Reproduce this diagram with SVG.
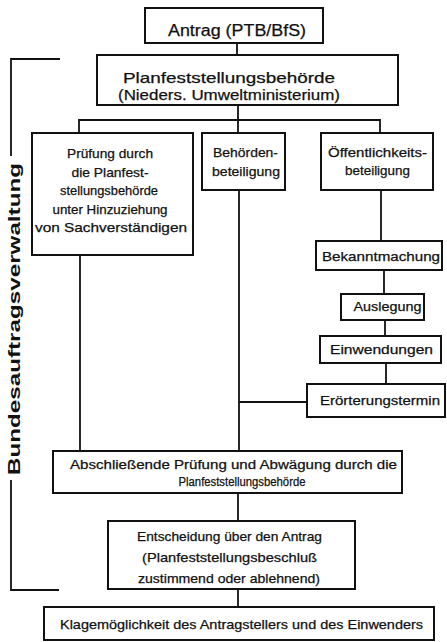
<svg xmlns="http://www.w3.org/2000/svg" width="447" height="642" viewBox="0 0 447 642">
<style>
.bg{fill:#fff}
.box{fill:#fff;stroke:#111;stroke-width:2}
.ln{fill:none;stroke:#111;stroke-width:1.8}
.t{font-family:"Liberation Sans",Arial,sans-serif;font-size:13px;fill:#111;stroke:#111;stroke-width:0.25;text-anchor:middle}
.big{font-size:15px}
.sm{font-size:12px}
.lab{font-family:"Liberation Sans",Arial,sans-serif;font-size:17px;font-weight:bold;fill:#111;text-anchor:middle}
</style>
<rect class="bg" x="0" y="0" width="447" height="642"/>
<g id="connectors">
<line class="ln" x1="237" y1="43" x2="237" y2="55"/>
<line class="ln" x1="238" y1="105" x2="238" y2="133"/>
<polyline class="ln" points="79,133 79,120 380,120 380,133"/>
<line class="ln" x1="80" y1="255" x2="80" y2="451"/>
<line class="ln" x1="239" y1="190" x2="239" y2="451"/>
<line class="ln" x1="381" y1="190" x2="381" y2="241"/>
<line class="ln" x1="384" y1="270" x2="384" y2="294"/>
<line class="ln" x1="385" y1="320" x2="385" y2="336"/>
<line class="ln" x1="386" y1="363" x2="386" y2="384"/>
<line class="ln" x1="239" y1="402" x2="307" y2="402"/>
<line class="ln" x1="238" y1="493" x2="238" y2="521"/>
<line class="ln" x1="238" y1="589" x2="238" y2="607"/>
</g>
<g id="bracket">
<polyline class="ln" points="60,59 11,59 11,156"/>
<polyline class="ln" points="11,480 11,590 59,590"/>
<text class="lab" transform="translate(20,319) rotate(-90)" x="0" y="0" textLength="312" lengthAdjust="spacingAndGlyphs">Bundesauftragsverwaltung</text>
</g>
<g id="antrag">
<rect class="box" x="145" y="8" width="178" height="35"/>
<text class="t" x="237" y="36" style="font-size:16px" textLength="138" lengthAdjust="spacingAndGlyphs">Antrag (PTB/BfS)</text>
</g>
<g id="planfeststellungsbehoerde">
<rect class="box" x="97" y="55" width="301" height="50"/>
<text class="t big" x="229" y="83" textLength="212" lengthAdjust="spacingAndGlyphs">Planfeststellungsbehörde</text>
<text class="t big" x="229" y="100" textLength="222" lengthAdjust="spacingAndGlyphs">(Nieders. Umweltministerium)</text>
</g>
<g id="pruefung">
<rect class="box" x="32" y="133" width="161" height="122"/>
<text class="t" x="110" y="158" textLength="86" lengthAdjust="spacingAndGlyphs">Prüfung durch</text>
<text class="t" x="110" y="177" textLength="77" lengthAdjust="spacingAndGlyphs">die Planfest-</text>
<text class="t" x="109" y="195" textLength="98" lengthAdjust="spacingAndGlyphs">stellungsbehörde</text>
<text class="t" x="110" y="214" textLength="115" lengthAdjust="spacingAndGlyphs">unter Hinzuziehung</text>
<text class="t" x="111" y="232" textLength="152" lengthAdjust="spacingAndGlyphs">von Sachverständigen</text>
</g>
<g id="behoerdenbeteiligung">
<rect class="box" x="202" y="133" width="83" height="57"/>
<text class="t" x="245.5" y="157" textLength="65" lengthAdjust="spacingAndGlyphs">Behörden-</text>
<text class="t" x="246" y="176" textLength="68" lengthAdjust="spacingAndGlyphs">beteiligung</text>
</g>
<g id="oeffentlichkeitsbeteiligung">
<rect class="box" x="321" y="133" width="112" height="57"/>
<text class="t" x="377.5" y="157" textLength="99" lengthAdjust="spacingAndGlyphs">Öffentlichkeits-</text>
<text class="t" x="377.5" y="175" textLength="65" lengthAdjust="spacingAndGlyphs">beteiligung</text>
</g>
<g id="bekanntmachung">
<rect class="box" x="316" y="241" width="126" height="29"/>
<text class="t" x="381" y="261" textLength="118" lengthAdjust="spacingAndGlyphs">Bekanntmachung</text>
</g>
<g id="auslegung">
<rect class="box" x="341" y="294" width="83" height="26"/>
<text class="t" x="387.5" y="311" textLength="68" lengthAdjust="spacingAndGlyphs">Auslegung</text>
</g>
<g id="einwendungen">
<rect class="box" x="320" y="336" width="121" height="27"/>
<text class="t" x="381.5" y="354" textLength="103" lengthAdjust="spacingAndGlyphs">Einwendungen</text>
</g>
<g id="eroerterungstermin">
<rect class="box" x="307" y="384" width="138" height="33"/>
<text class="t" x="380" y="405" textLength="120" lengthAdjust="spacingAndGlyphs">Erörterungstermin</text>
</g>
<g id="abschliessende-pruefung">
<rect class="box" x="53" y="451" width="349" height="42"/>
<text class="t sm" x="233.5" y="469" textLength="327" lengthAdjust="spacingAndGlyphs">Abschließende Prüfung und Abwägung durch die</text>
<text class="t sm" x="242" y="486" textLength="127" lengthAdjust="spacingAndGlyphs">Planfeststellungsbehörde</text>
</g>
<g id="entscheidung">
<rect class="box" x="108" y="521" width="247" height="68"/>
<text class="t" x="229.5" y="541" textLength="185" lengthAdjust="spacingAndGlyphs">Entscheidung über den Antrag</text>
<text class="t" x="229.5" y="562" textLength="175" lengthAdjust="spacingAndGlyphs">(Planfeststellungsbeschluß</text>
<text class="t" x="229" y="583" textLength="182" lengthAdjust="spacingAndGlyphs">zustimmend oder ablehnend)</text>
</g>
<g id="klagemoeglichkeit">
<rect class="box" x="44" y="607" width="390" height="33"/>
<text class="t" x="241.5" y="629" textLength="363" lengthAdjust="spacingAndGlyphs">Klagemöglichkeit des Antragstellers und des Einwenders</text>
</g>
</svg>
